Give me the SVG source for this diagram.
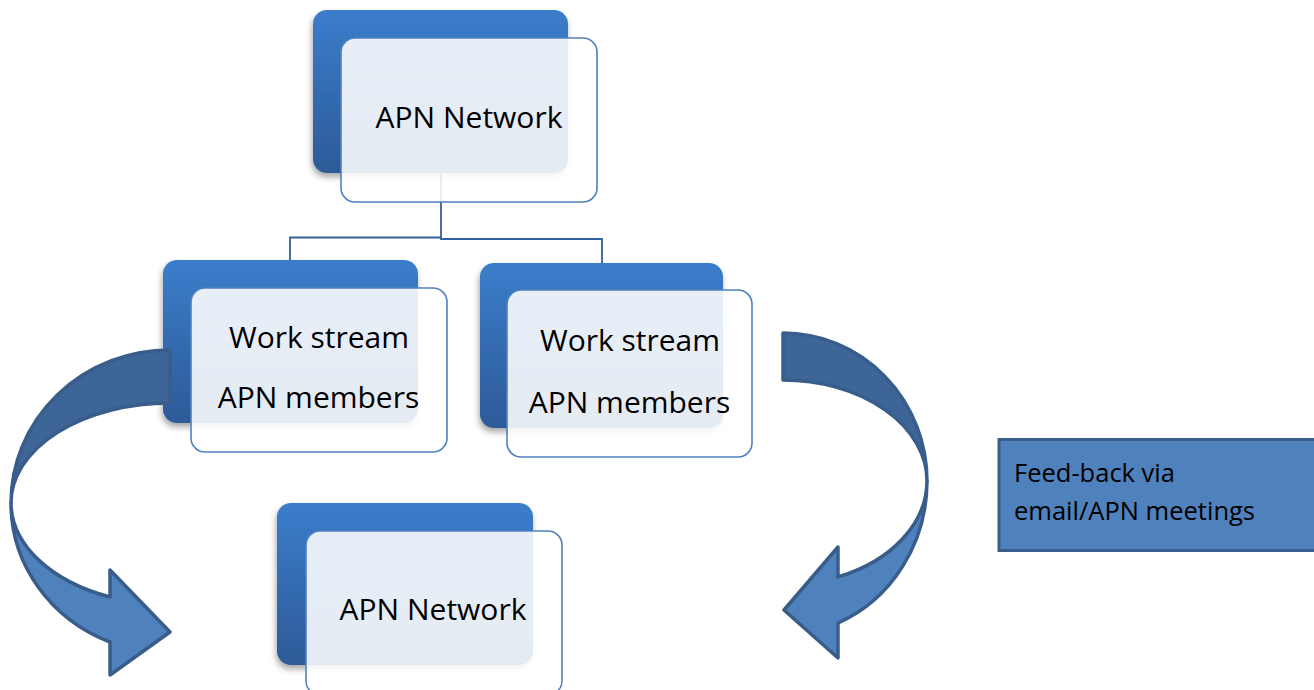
<svg xmlns="http://www.w3.org/2000/svg" width="1314" height="690" viewBox="0 0 1314 690">
<defs>
<linearGradient id="backGrad" x1="0" y1="0" x2="0" y2="1">
<stop offset="0" stop-color="#3b7dcb"/>
<stop offset="1" stop-color="#2d5a98"/>
</linearGradient>
<filter id="shadow" x="-10%" y="-10%" width="125%" height="130%">
<feDropShadow dx="-1" dy="4" stdDeviation="3" flood-color="#000" flood-opacity="0.35"/>
</filter>
<style>
.back{fill:url(#backGrad);filter:url(#shadow);}
.front{fill:#ffffff;fill-opacity:0.88;stroke:#4f81bd;stroke-width:1.6;}
.lbl{font-family:"Open Sans","Liberation Sans",sans-serif;font-size:30px;fill:#000;text-anchor:middle;}
.fb{font-family:"Open Sans","Liberation Sans",sans-serif;font-size:25.5px;fill:#000;}
.conn{fill:none;stroke:#33609e;stroke-width:1.8;}
.arrDark{fill:#3e6597;stroke:#385d8a;stroke-width:3.5;stroke-linejoin:round;}
.arrLight{fill:#4f81bd;stroke:#385d8a;stroke-width:3.5;stroke-linejoin:round;}
</style>
</defs>
<rect width="1314" height="690" fill="#ffffff"/>
<g id="connectors">
<path class="conn" d="M441,174 V237.5 H290 V260"/>
<path class="conn" d="M441,237.5 V239 H602 V263"/>
</g>
<g id="node-top">
<rect class="back" x="313" y="10" width="255" height="163" rx="14"/>
<rect class="front" x="341" y="38" width="256" height="164" rx="14"/>
<text class="lbl" x="469" y="128">APN Network</text>
</g>
<g id="node-left">
<rect class="back" x="163" y="260" width="255" height="163" rx="14"/>
<rect class="front" x="191" y="288" width="256" height="164" rx="14"/>
<text class="lbl" x="319" y="348">Work stream</text>
<text class="lbl" x="318.5" y="408">APN members</text>
</g>
<g id="node-right">
<rect class="back" x="480" y="263" width="243" height="165" rx="14"/>
<rect class="front" x="507" y="290" width="245" height="167" rx="14"/>
<text class="lbl" x="630" y="351">Work stream</text>
<text class="lbl" x="629.5" y="413">APN members</text>
</g>
<g id="node-bottom">
<rect class="back" x="277" y="503" width="256" height="162" rx="14"/>
<rect class="front" x="306" y="531" width="256" height="164" rx="14"/>
<text class="lbl" x="433" y="620">APN Network</text>
</g>
<g id="node-feedback">
<rect x="999" y="439.5" width="330" height="111" fill="#4f81bd" stroke="#3a5f8e" stroke-width="3"/>
<text class="fb" x="1014" y="482">Feed-back via</text>
<text class="fb" x="1014" y="520">email/APN meetings</text>
</g>
<g id="arrows">
<g id="arrow-left">
<path class="arrDark" d="M170,350 A159,153 0 0 0 11,503 A159,100 0 0 1 170,403 Z"/>
<path class="arrLight" d="M11,503 A159,150 0 0 0 110,642 L110,675 L170,632 L110,570 L110,597 A159,102 0 0 1 11,503 Z"/>
</g>
<g id="arrow-right">
<path class="arrDark" d="M783,333 A144,148 0 0 1 927,481 A144,101 0 0 0 783,380 Z"/>
<path class="arrLight" d="M927,481 A144,154 0 0 1 838,623 L838,658 L784,610 L838,547 L838,577 A144,104 0 0 0 927,481 Z"/>
</g>
</g>
</svg>
